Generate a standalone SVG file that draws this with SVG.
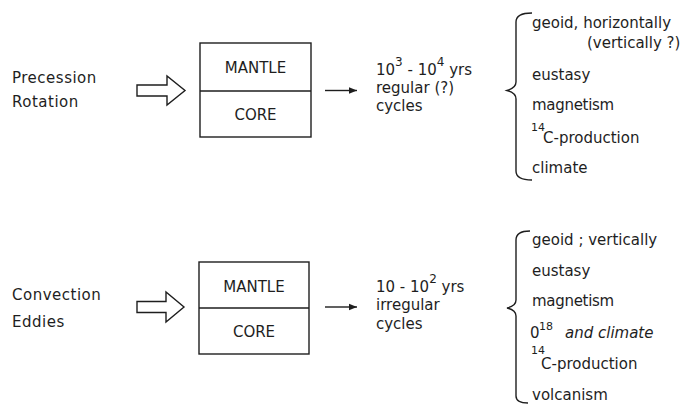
<svg xmlns="http://www.w3.org/2000/svg" width="694" height="404" viewBox="0 0 694 404">
<defs>
<style>
text{font-family:"DejaVu Sans","Liberation Sans",sans-serif;fill:#1e1e1e;font-size:15px}
.box{font-size:15px;text-anchor:middle}
.sup{font-size:11px}
.it{font-style:italic;font-size:15px}
.ln{fill:none;stroke:#1e1e1e;stroke-width:1.4}
.hollow{fill:#fff;stroke:#1e1e1e;stroke-width:1.4;stroke-linejoin:miter}
</style>
<marker id="ah" viewBox="0 0 10 10" refX="10" refY="5" markerWidth="8" markerHeight="8" markerUnits="userSpaceOnUse" orient="auto">
<path d="M0,1 L10,5 L0,9 Z" fill="#1e1e1e"/>
</marker>
</defs>
<rect width="694" height="404" fill="#fff"/>

<g id="causes-top"><text x="12" y="83" letter-spacing="0.5">Precession</text><text x="12" y="107" letter-spacing="0.5">Rotation</text></g>
<g id="causes-bottom"><text x="12" y="300" letter-spacing="0.5">Convection</text><text x="12" y="327" letter-spacing="0.5">Eddies</text></g>

<g id="earth-top">
<rect class="ln" x="200" y="43" width="111" height="94"/>
<line class="ln" x1="200" y1="91" x2="311" y2="91"/>
<text class="box" x="255.5" y="72.5">MANTLE</text>
<text class="box" x="255.5" y="119.5">CORE</text>
</g>
<g id="earth-bottom">
<rect class="ln" x="199" y="262" width="110" height="92"/>
<line class="ln" x1="199" y1="308" x2="309" y2="308"/>
<text class="box" x="254" y="292">MANTLE</text>
<text class="box" x="254" y="337">CORE</text>
</g>

<g id="period-top">
<text x="376" y="75" font-size="14.5px">10<tspan dy="-9" font-size="12px">3</tspan><tspan dy="9"> - 10</tspan><tspan dy="-9" font-size="12px">4</tspan><tspan dy="9"> yrs</tspan></text>
<text x="376" y="93">regular (?)</text>
<text x="376" y="111">cycles</text>
</g>
<g id="period-bottom">
<text x="376" y="292" font-size="14.5px">10 - 10<tspan dy="-9" font-size="12px">2</tspan><tspan dy="9"> yrs</tspan></text>
<text x="376" y="310">irregular</text>
<text x="376" y="329">cycles</text>
</g>

<g id="effects-top">
<text x="532" y="28">geoid,  horizontally</text>
<text x="587" y="48" font-size="14.5px">(vertically ?)</text>
<text x="532" y="80">eustasy</text>
<text x="532" y="110" letter-spacing="-0.3">magnetism</text>
<text class="sup" x="531" y="131">14</text>
<text x="543" y="143">C-production</text>
<text x="532" y="173">climate</text>
</g>
<g id="effects-bottom">
<text x="532" y="245">geoid ; vertically</text>
<text x="532" y="276">eustasy</text>
<text x="532" y="306" letter-spacing="-0.3">magnetism</text>
<text x="530" y="338">0</text><text class="sup" x="539" y="330">18</text>
<text class="it" x="565" y="338">and  climate</text>
<text class="sup" x="531" y="354">14</text>
<text x="541" y="369">C-production</text>
<text x="532" y="400">volcanism</text>
</g>

<g id="connectors">
<polygon class="hollow" points="137,85 167,85 167,76 185,90.5 167,105 167,96 137,96"/>
<polygon class="hollow" points="137,301.5 166,301.5 166,292 184,307 166,322 166,312.5 137,312.5"/>
<line class="ln" x1="325" y1="90.5" x2="357" y2="90.5" marker-end="url(#ah)"/>
<line class="ln" x1="325" y1="307" x2="357" y2="307" marker-end="url(#ah)"/>
<path class="ln" d="M532,13 Q516,13 516,22 L516,82 Q516,88 507,90.5 Q516,93 516,99 L516,171 Q516,180 532,180"/>
<path class="ln" d="M530,231 Q516,231 516,240 L516,300 Q516,306 507,308 Q516,310 516,316 L516,396 Q516,403 528,403"/>
</g>
</svg>
